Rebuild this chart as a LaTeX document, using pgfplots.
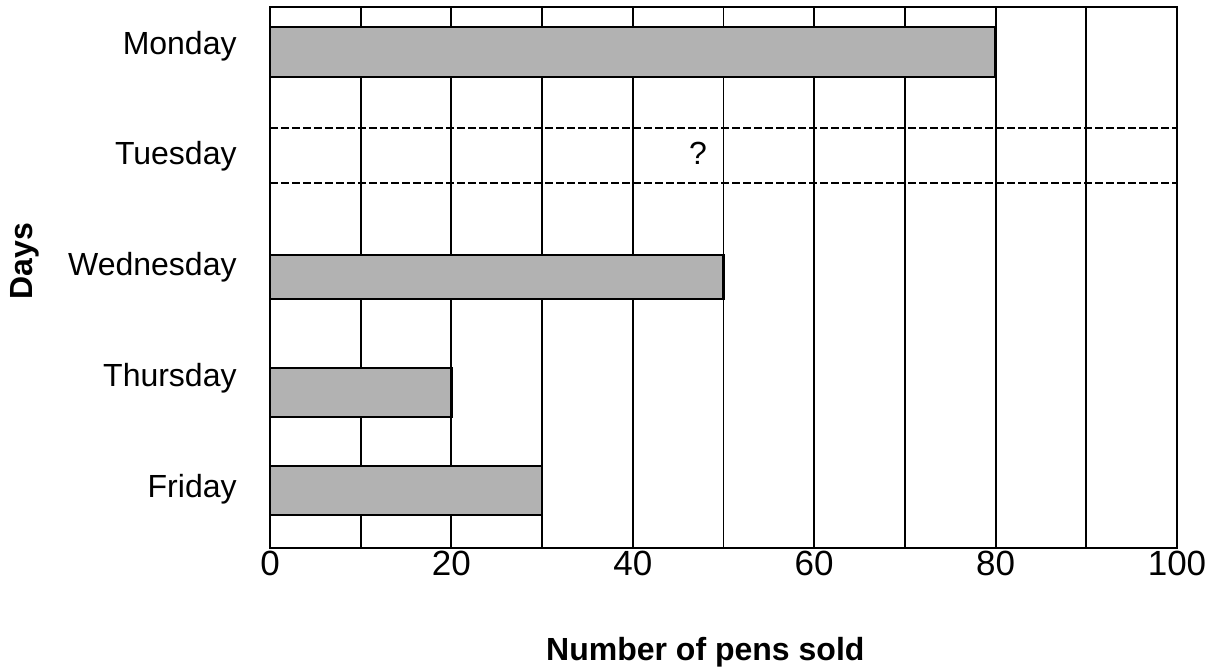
\documentclass[border=0pt]{standalone}
\usepackage{fontspec}
\setmainfont{Liberation Sans}
\usepackage{pgfplots}
\pgfplotsset{compat=1.18}
\definecolor{barfill}{RGB}{178,178,178}
\begin{document}
\fontsize{16}{19}\selectfont
\begin{tikzpicture}
\path[use as bounding box] (-135pt,-61.5pt) rectangle (472.5pt,274pt);
\begin{axis}[
  at={(0,0)}, anchor=south west,
  width=453.5pt, height=270.5pt, scale only axis,
  xmin=0, xmax=100, ymin=0, ymax=541,
  xtick={0,10,...,100},
  xticklabels={0,,20,,40,,60,,80,,100},
  xmajorgrids,
  major grid style={black, line width=0.9pt},
  major tick length=0pt,
  ytick={59,170,281,392,502},
  yticklabels={Friday,Thursday,Wednesday,Tuesday,Monday},
  axis line style={line width=1.2pt},
  /pgf/number format/assume math mode=true,
  xticklabel style={anchor=north, inner sep=0pt, yshift=-1.5pt, font=\fontsize{17.5}{20}\selectfont},
  yticklabel style={anchor=east, inner sep=0pt, xshift=-16.5pt},
  xlabel={\bfseries Number of pens sold},
  xlabel style={at={(axis description cs:0.48,0)}, anchor=base, yshift=-56pt, inner sep=0pt},
  ylabel={\bfseries Days},
  ylabel style={at={(axis description cs:0,0.53)}, anchor=base, inner sep=0pt, rotate=0, yshift=118.5pt},
]
% Tuesday placeholder (dashed)
\addplot[black, line width=1pt, dash pattern=on 4pt off 1.5pt] coordinates {(0,365) (100,365)};
\addplot[black, line width=1pt, dash pattern=on 4pt off 1.5pt] coordinates {(0,420) (100,420)};
% Bars
\addplot[xbar, bar width=50, bar shift=0pt, fill=barfill, draw=black, line width=1.2pt] coordinates {(80,496)};
\addplot[xbar, bar width=44, bar shift=0pt, fill=barfill, draw=black, line width=1.2pt] coordinates {(50,271)};
\addplot[xbar, bar width=49, bar shift=0pt, fill=barfill, draw=black, line width=1.2pt] coordinates {(20,155.5)};
\addplot[xbar, bar width=49, bar shift=0pt, fill=barfill, draw=black, line width=1.2pt] coordinates {(30,57.5)};
\node at (axis cs:47.2,395) {?};
\end{axis}
\end{tikzpicture}
\end{document}
